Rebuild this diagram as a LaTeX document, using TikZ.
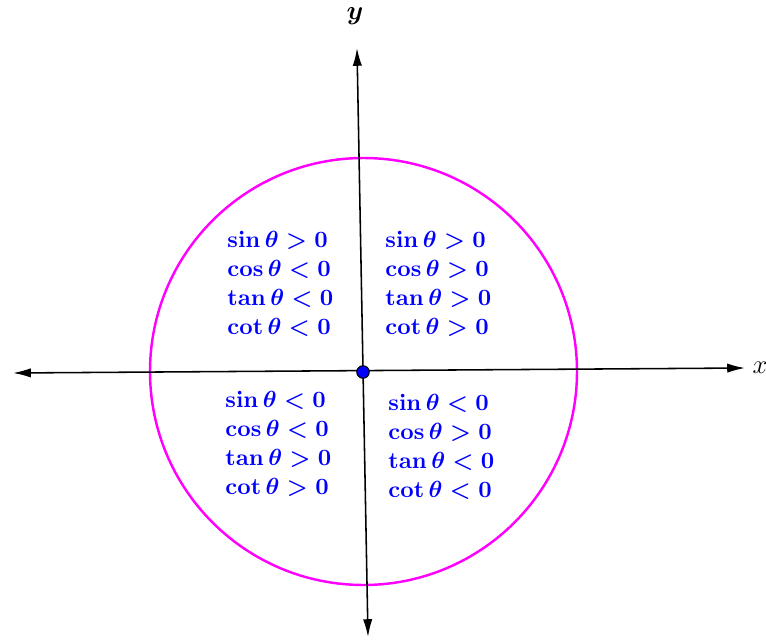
\documentclass[tikz,border=0pt]{standalone}
\usepackage{amsmath,amssymb}
\usepackage{graphicx}
\usepackage{xcolor}
\usepackage{tikz}
\usetikzlibrary{arrows.meta,positioning}
\definecolor{umag}{RGB}{255,0,255}
\definecolor{ublue}{RGB}{0,0,255}
\newcommand{\quadsigns}[4]{\scalebox{1.05}{\begin{tabular}{@{}l@{}}$#1$\\ $#2$\\ $#3$\\ $#4$\end{tabular}}}

\begin{document}
\begin{tikzpicture}[x=0.45pt, y=-0.45pt,
  axis/.style={{Latex[length=8pt,width=4.2pt]}-{Latex[length=8pt,width=4.2pt]}, line width=0.7pt, color=black},
  unit/.style={draw=umag, line width=1.1pt},
  sign/.style={text=ublue, anchor=west, inner sep=0pt,
               font=\boldmath\fontsize{10}{12.4}\selectfont},
  dot/.style={circle, draw=black, fill=ublue, line width=0.5pt, inner sep=0pt, minimum size=5.6pt}
]
  \useasboundingbox (0,0) rectangle (766,640);

  % axes
  \coordinate (xl) at (13,373);
  \coordinate (xr) at (745,368);
  \coordinate (yt) at (357,48);
  \coordinate (yb) at (368,637);
  \draw[unit] (363.5,371.5) circle (213.5);
  \draw[axis] (xl) -- (xr);
  \draw[axis] (yb) -- (yt);
  \node[font=\large] (xlbl) at (760,368) {$x$};
  \node[font=\large] (ylbl) at (355,16) {$\boldsymbol{y}$};
  \node[dot] (origin) at (363,372) {};

  % quadrant signs
  \node[sign] (q2) at (227,285.5) {\quadsigns{\sin\theta>0}{\cos\theta<0}{\tan\theta<0}{\cot\theta<0}};
  \node[sign] (q1) at (385,285.5) {\quadsigns{\sin\theta>0}{\cos\theta>0}{\tan\theta>0}{\cot\theta>0}};
  \node[sign] (q3) at (225,445.5) {\quadsigns{\sin\theta<0}{\cos\theta<0}{\tan\theta>0}{\cot\theta>0}};
  \node[sign] (q4) at (388,448.5) {\quadsigns{\sin\theta<0}{\cos\theta>0}{\tan\theta<0}{\cot\theta<0}};
\end{tikzpicture}
\end{document}
